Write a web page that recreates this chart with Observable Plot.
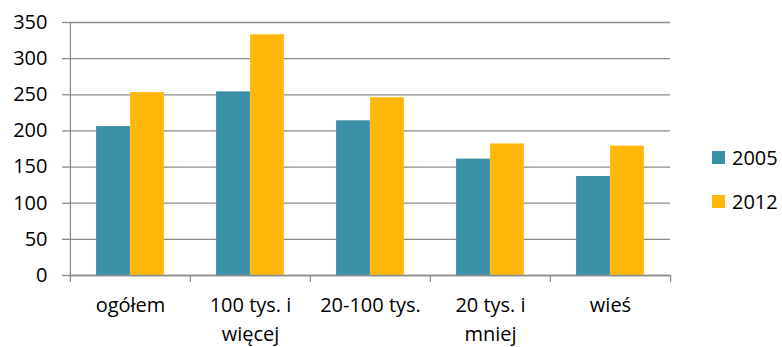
<!DOCTYPE html>
<html>
<head>
<meta charset="utf-8">
<script src="https://cdn.jsdelivr.net/npm/d3@7"></script>
<script src="https://cdn.jsdelivr.net/npm/@observablehq/plot@0.6"></script>
<style>
  html, body { margin: 0; padding: 0; background: #fff; }
  #wrap { position: relative; width: 782px; height: 347px; font-family: "Open Sans", sans-serif; }
  #legend { position: absolute; left: 712px; top: 142px; font-size: 20px; color: #000; }
  .item { display: flex; align-items: center; height: 31px; margin-bottom: 13px; }
  .sw { width: 13px; height: 13px; margin-right: 7px; }
</style>
</head>
<body>
<div id="wrap"><div id="legend"></div></div>
<script>
const categories = ["ogółem", "100 tys. i więcej", "20-100 tys.", "20 tys. i mniej", "wieś"];
const categoryLabels = ["ogółem", "100 tys. i\nwięcej", "20-100 tys.", "20 tys. i\nmniej", "wieś"];
const years = ["2005", "2012"];
const values2005 = [206, 254, 214, 161, 137];
const values2012 = [253, 333, 246, 182, 179];
const yTicks = [0, 50, 100, 150, 200, 250, 300, 350];
const colors = ["#3a90a6", "#ffb80a"];

const rows2005 = categories.map((c, i) => ({category: c, year: years[0], value: values2005[i]}));
const rows2012 = categories.map((c, i) => ({category: c, year: years[1], value: values2012[i]}));

const W = 782, H = 347, ML = 69, MR = 112, MT = 22, MB = 72;
const step = (W - ML - MR) / categories.length;
const barW = 34;
const grid = "#8c8c8c";

const chart = Plot.plot({
  width: W, height: H,
  marginLeft: ML, marginRight: MR, marginTop: MT, marginBottom: MB,
  style: {fontFamily: "Open Sans", fontSize: "20px", color: "#000", background: "#fff"},
  x: {domain: categories, padding: 0},
  y: {domain: [0, 350]},
  marks: [
    Plot.gridY(yTicks, {stroke: grid, strokeOpacity: 1, strokeWidth: 1.3}),
    Plot.barY(rows2005, {x: "category", y: "value", fill: colors[0], insetLeft: step / 2 - barW, insetRight: step / 2}),
    Plot.barY(rows2012, {x: "category", y: "value", fill: colors[1], insetLeft: step / 2, insetRight: step / 2 - barW}),
    Plot.ruleY([0], {stroke: grid, strokeWidth: 1.3}),
    Plot.ruleX(categories.slice(0, 1), {dx: -step / 2, stroke: grid, strokeWidth: 1.3, insetBottom: -7}),
    Plot.ruleX(categories.slice(1), {dx: -step / 2, stroke: grid, strokeWidth: 1.3, insetTop: H - MT - MB, insetBottom: -7}),
    Plot.ruleX(categories.slice(-1), {dx: step / 2, stroke: grid, strokeWidth: 1.3, insetTop: H - MT - MB, insetBottom: -7}),
    Plot.axisY(yTicks, {tickSize: 7, tickPadding: 15, stroke: grid, strokeWidth: 1.3, fill: "#000", label: null}),
    Plot.axisX({tickSize: 0, tickPadding: 16, lineHeight: 1.45, fill: "#000", label: null,
      tickFormat: d => categoryLabels[categories.indexOf(d)]})
  ]
});
document.getElementById("wrap").prepend(chart);

const legend = document.getElementById("legend");
years.forEach((y, i) => {
  const it = document.createElement("div");
  it.className = "item";
  it.innerHTML = `<div class="sw" style="background:${colors[i]}"></div><span>${y}</span>`;
  legend.appendChild(it);
});
</script>
</body>
</html>
